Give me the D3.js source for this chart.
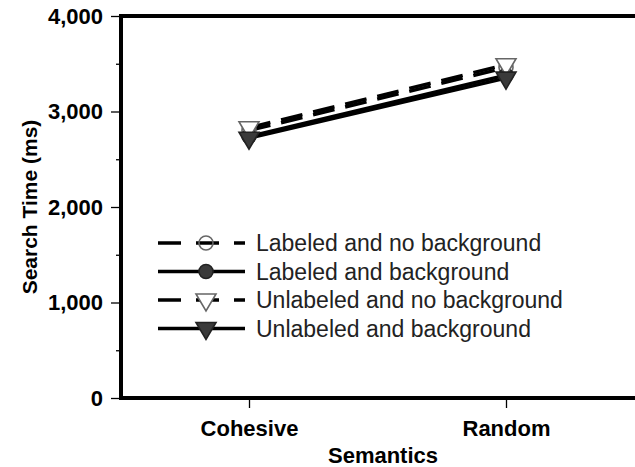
<!DOCTYPE html>
<html>
<head>
<meta charset="utf-8">
<script src="https://cdn.jsdelivr.net/npm/d3@7"></script>
<style>
  body { margin: 0; background: #fff; }
  text { font-family: "Liberation Sans", Arial, sans-serif; }
</style>
</head>
<body>
<div id="chart"></div>
<script>
const categories = ["Cohesive", "Random"];
const seriesNames = [
  "Labeled and no background",
  "Labeled and background",
  "Unlabeled and no background",
  "Unlabeled and background"
];
const labeledNoBg = [2800, 3460];
const labeledBg = [2740, 3380];
const unlabeledNoBg = [2830, 3490];
const unlabeledBg = [2720, 3350];
const yTicks = [0, 1000, 2000, 3000, 4000];
const yMinorTicks = [500, 1500, 2500, 3500];

const w = 635;
const h = 467;
const plotLeft = 121, plotTop = 16, plotBottom = 398;

const series = [
  { name: seriesNames[0], values: labeledNoBg, dashed: true, shape: "circle", fill: "none", stroke: "#666" },
  { name: seriesNames[1], values: labeledBg, dashed: false, shape: "circle", fill: "#3a3a3a", stroke: "#222" },
  { name: seriesNames[2], values: unlabeledNoBg, dashed: true, shape: "tri", fill: "#fff", stroke: "#666" },
  { name: seriesNames[3], values: unlabeledBg, dashed: false, shape: "tri", fill: "#3a3a3a", stroke: "#222" }
];

const svg = d3.select("#chart").append("svg").attr("width", w).attr("height", h);

const x = d3.scalePoint().domain(categories).range([249, 506]);
const y = d3.scaleLinear().domain([0, 4000]).range([plotBottom, plotTop]);

// y axis major
const yAxis = svg.append("g").attr("transform", "translate(" + plotLeft + ",0)")
  .call(d3.axisLeft(y).tickValues(yTicks).tickSize(10).tickPadding(8).tickFormat(d3.format(",")));
yAxis.select(".domain").remove();
yAxis.selectAll("text").attr("font-size", 22).attr("font-weight", "bold").attr("fill", "#000");
yAxis.selectAll("line").attr("stroke-width", 1.3);

// y minor ticks
svg.append("g").attr("transform", "translate(" + plotLeft + ",0)")
  .call(d3.axisLeft(y).tickValues(yMinorTicks).tickSize(5).tickFormat(""))
  .call(g => g.select(".domain").remove())
  .selectAll("line").attr("stroke-width", 1.3);

// x axis
const xAxis = svg.append("g").attr("transform", "translate(0," + plotBottom + ")")
  .call(d3.axisBottom(x).tickSize(10).tickPadding(12));
xAxis.select(".domain").remove();
xAxis.selectAll("text").attr("font-size", 22).attr("font-weight", "bold").attr("fill", "#000");
xAxis.selectAll("line").attr("stroke-width", 1.3);

// frame
svg.append("path")
  .attr("d", "M" + w + "," + plotTop + "H" + plotLeft + "V" + plotBottom + "H" + w)
  .attr("fill", "none").attr("stroke", "#000").attr("stroke-width", 4);

// lines
const line = d3.line().x((d, i) => x(categories[i])).y(d => y(d));
svg.selectAll(".series").data(series).enter().append("path")
  .attr("d", d => line(d.values))
  .attr("fill", "none").attr("stroke", "#000")
  .attr("stroke-width", 3.4)
  .attr("stroke-dasharray", d => d.dashed ? "22,11" : null);

const triPath = "M-10,-6L10,-6L0,11Z";

function drawMarker(g, s, cx, cy) {
  if (s.shape === "circle") {
    g.append("circle").attr("cx", cx).attr("cy", cy).attr("r", 7)
      .attr("fill", s.fill).attr("stroke", s.stroke).attr("stroke-width", 1.6);
  } else {
    g.append("path").attr("d", triPath).attr("transform", "translate(" + cx + "," + cy + ")")
      .attr("fill", s.fill).attr("stroke", s.stroke).attr("stroke-width", 1.6);
  }
}

const marks = svg.append("g");
series.forEach(s => {
  s.values.forEach((v, i) => drawMarker(marks, s, x(categories[i]), y(v)));
});

// legend
const legend = svg.append("g");
series.forEach((s, i) => {
  const ly = 243 + i * 28.5;
  legend.append("line").attr("x1", 158).attr("x2", 245).attr("y1", ly).attr("y2", ly)
    .attr("stroke", "#000").attr("stroke-width", 3.4)
    .attr("stroke-dasharray", s.dashed ? "23,15" : null);
  drawMarker(legend, s, 206, ly);
  legend.append("text").attr("x", 256).attr("y", ly).attr("dy", "0.36em")
    .attr("font-size", 23).attr("fill", "#222").text(s.name);
});

// axis titles
svg.append("text").attr("transform", "translate(37,207) rotate(-90)")
  .attr("text-anchor", "middle").attr("font-size", 21).attr("font-weight", "bold")
  .text("Search Time (ms)");
svg.append("text").attr("x", 383).attr("y", 463)
  .attr("text-anchor", "middle").attr("font-size", 22).attr("font-weight", "bold")
  .text("Semantics");
</script>
</body>
</html>
